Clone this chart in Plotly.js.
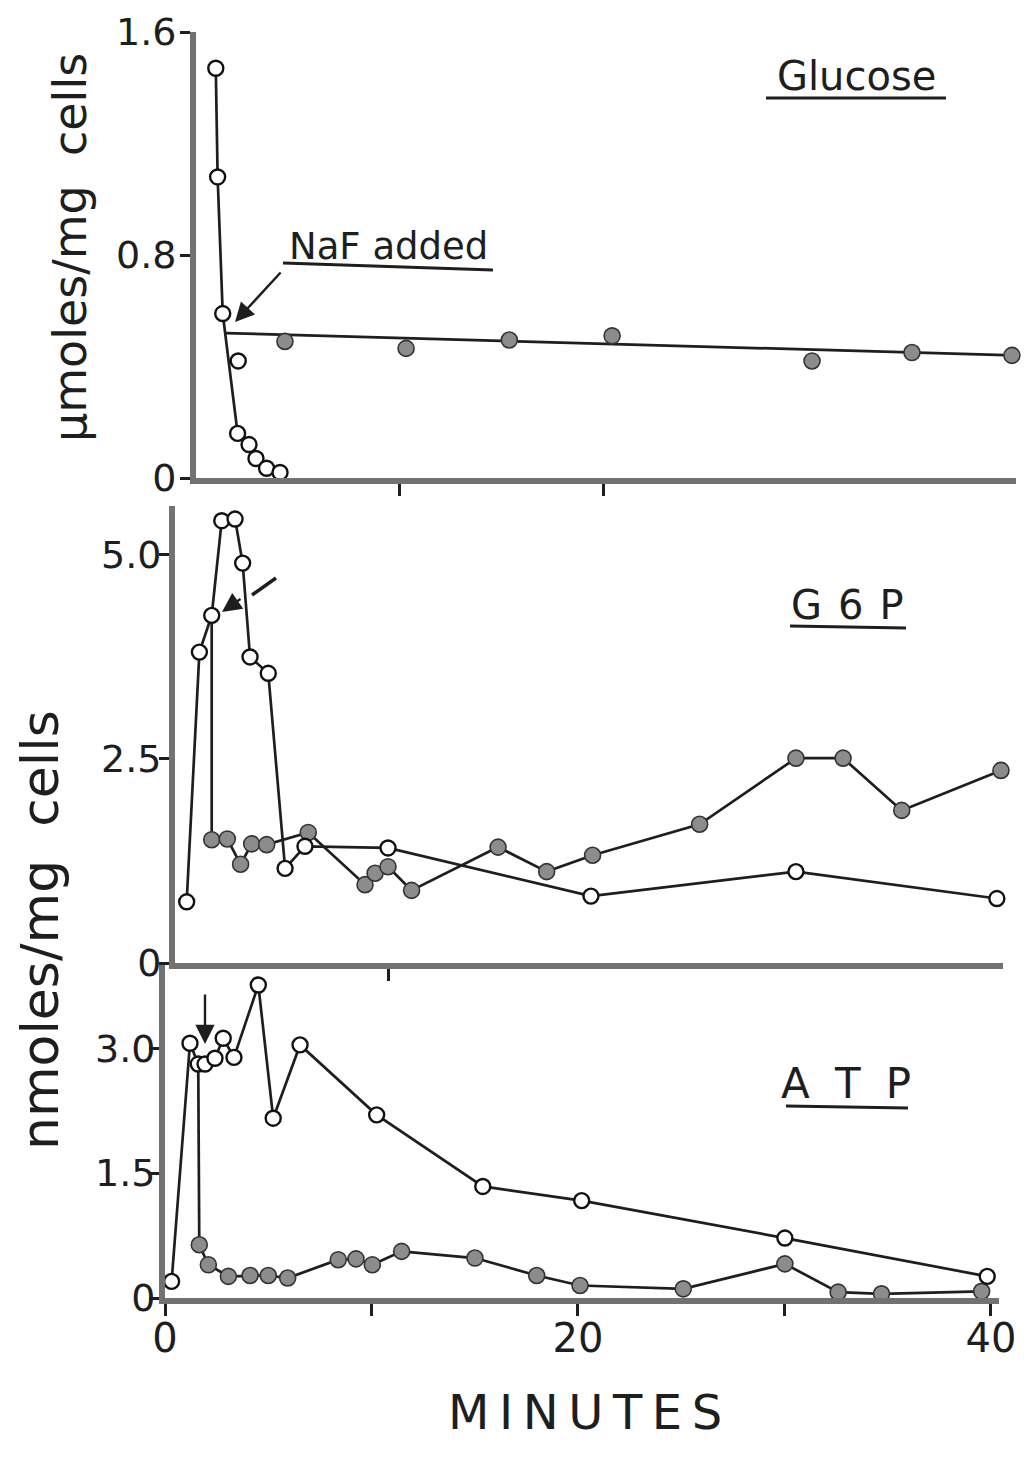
<!DOCTYPE html>
<html><head><meta charset="utf-8">
<script src="https://cdn.plot.ly/plotly-3.0.1.min.js"></script>
<style>body{margin:0;background:#fff}#chart{width:1030px;height:1470px}</style>
</head><body><div id="chart"></div>
<script>
// ---------- data (minutes, values) ----------
// Glucose (µmoles/mg cells)
const glucoseOpenX = [0.97, 1.06, 1.31, 2.04, 2.6, 2.94, 3.46, 4.12];
const glucoseOpenY = [1.47, 1.08, 0.59, 0.16, 0.12, 0.07, 0.035, 0.02];
const glucoseExtraX = [2.07];
const glucoseExtraY = [0.42];
const glucoseNaFX = [4.36, 10.3, 15.36, 20.4, 30.2, 35.1, 40.0];
const glucoseNaFY = [0.49, 0.465, 0.495, 0.51, 0.42, 0.45, 0.44];
const glucoseFitX = [1.47, 40.1];
const glucoseFitY = [0.52, 0.44];

// G6P (nmoles/mg cells)
const g6pOpenX = [0.18, 0.80, 1.40, 1.89, 2.54, 2.91, 3.27, 4.16, 4.98, 5.95, 10.0, 19.9, 29.9, 39.7];
const g6pOpenY = [0.75, 3.81, 4.26, 5.42, 5.44, 4.90, 3.75, 3.55, 1.16, 1.43, 1.41, 0.82, 1.12, 0.79];
const g6pNaFX = [1.40, 2.16, 2.81, 3.35, 4.08, 6.11, 8.88, 9.37, 10.0, 11.15, 15.37, 17.74, 19.98, 25.2, 29.9, 32.2, 35.06, 39.9];
const g6pNaFY = [1.51, 1.52, 1.21, 1.46, 1.45, 1.60, 0.96, 1.10, 1.18, 0.89, 1.42, 1.12, 1.32, 1.70, 2.51, 2.51, 1.87, 2.36];
const g6pNaFIndex = 2;   // open point where NaF was added

// ATP (nmoles/mg cells)
const atpOpenX = [0.32, 1.21, 1.61, 1.94, 2.42, 2.82, 3.34, 4.52, 5.24, 6.54, 10.25, 15.39, 20.18, 30.02, 39.82];
const atpOpenY = [0.20, 3.06, 2.81, 2.81, 2.88, 3.12, 2.89, 3.76, 2.16, 3.04, 2.20, 1.34, 1.17, 0.72, 0.26];
const atpNaFX = [1.66, 2.10, 3.07, 4.12, 5.0, 5.94, 8.39, 9.25, 10.04, 11.46, 15.01, 18.0, 20.1, 25.1, 30.02, 32.6, 34.7, 39.55];
const atpNaFY = [0.64, 0.40, 0.26, 0.27, 0.27, 0.24, 0.46, 0.47, 0.40, 0.56, 0.48, 0.27, 0.15, 0.11, 0.41, 0.07, 0.05, 0.08];
const atpNaFIndex = 2;

// ---------- helpers ----------
const W = 1030, H = 1470;
const px = v => v / W, py = v => 1 - v / H;
const FONT = 'DejaVu Sans, Liberation Sans, sans-serif';
const INK = '#1e1e1e';
const AXC = '#727272';
const lineStyle = {color: INK, width: 2.7};
const openMarker = {symbol: 'circle', size: 15, color: '#ffffff', line: {color: '#111', width: 2.4}};
const fillMarker = {symbol: 'circle', size: 16, color: '#8c8c8c', line: {color: '#333', width: 1.6}};

function tr(x, y, xa, ya, mode, marker) {
  const t = {x: x, y: y, xaxis: xa, yaxis: ya, mode: mode, line: lineStyle, cliponaxis: false, hoverinfo: 'skip', showlegend: false};
  if (marker) t.marker = marker;
  return t;
}

const data = [
  tr(glucoseFitX, glucoseFitY, 'x', 'y', 'lines'),
  tr(glucoseOpenX, glucoseOpenY, 'x', 'y', 'lines+markers', openMarker),
  tr(glucoseExtraX, glucoseExtraY, 'x', 'y', 'markers', openMarker),
  tr(glucoseNaFX, glucoseNaFY, 'x', 'y', 'markers', fillMarker),

  tr([g6pOpenX[g6pNaFIndex], g6pNaFX[0]], [g6pOpenY[g6pNaFIndex], g6pNaFY[0]], 'x2', 'y2', 'lines'),
  tr(g6pNaFX, g6pNaFY, 'x2', 'y2', 'lines+markers', fillMarker),
  tr(g6pOpenX, g6pOpenY, 'x2', 'y2', 'lines+markers', openMarker),

  tr([atpOpenX[atpNaFIndex], atpNaFX[0]], [atpOpenY[atpNaFIndex], atpNaFY[0]], 'x3', 'y3', 'lines'),
  tr(atpNaFX, atpNaFY, 'x3', 'y3', 'lines+markers', fillMarker),
  tr(atpOpenX, atpOpenY, 'x3', 'y3', 'lines+markers', openMarker)
];

const tickFont = {family: FONT, size: 38, color: INK};
function xax(dom, range, anchor, vals, text) {
  return {domain: dom, range: range, anchor: anchor, showline: true, linewidth: 6, linecolor: AXC,
    ticks: 'outside', ticklen: 12, tickwidth: 3, tickcolor: INK, tickvals: vals,
    ticktext: text || vals.map(() => ''), showticklabels: !!text, ticklabelstandoff: -12,
    tickfont: {family: FONT, size: 40, color: INK},
    showgrid: false, zeroline: false, fixedrange: true};
}
function yax(dom, range, anchor, vals, text, standoff) {
  return {domain: dom, range: range, anchor: anchor, showline: true, linewidth: 6, linecolor: AXC,
    ticks: 'outside', ticklen: 10, tickwidth: 3, tickcolor: INK, tickvals: vals, ticktext: text,
    ticklabelstandoff: standoff, tickfont: tickFont, showgrid: false, zeroline: false, fixedrange: true};
}

function label(text, x, y, size, extra) {
  return Object.assign({text: text, xref: 'paper', yref: 'paper', x: px(x), y: py(y),
    xanchor: 'center', yanchor: 'middle', showarrow: false, font: {family: FONT, size: size, color: INK}}, extra || {});
}
function arrow(hx, hy, tx, ty) {
  return {text: '', xref: 'paper', yref: 'paper', x: px(hx), y: py(hy), ax: tx - hx, ay: ty - hy,
    showarrow: true, arrowhead: 2, arrowsize: 1.6, arrowwidth: 2.4, arrowcolor: INK};
}
function uline(x0, y0, x1, y1, w) {
  return {type: 'line', xref: 'paper', yref: 'paper', x0: px(x0), y0: py(y0), x1: px(x1), y1: py(y1),
    line: {color: INK, width: w || 3}};
}

const layout = {
  width: W, height: H, margin: {l: 0, r: 0, t: 0, b: 0},
  paper_bgcolor: '#fff', plot_bgcolor: 'rgba(0,0,0,0)',
  font: {family: FONT, color: INK},
  xaxis: xax([px(196), px(1016)], [0, 40.2], 'y', [10, 20]),
  yaxis: yax([py(478), py(32)], [0, 1.6], 'x', [0, 0.8, 1.6], ['0', '0.8', '1.6'], -4),
  xaxis2: xax([px(175), px(1003)], [-0.39, 40], 'y2', [10]),
  yaxis2: yax([py(963), py(506)], [0, 5.6], 'x2', [0, 2.5, 5], ['0', '2.5', '5.0'], -10),
  xaxis3: xax([px(165), px(999)], [0, 40.39], 'y3', [0, 10, 20, 30, 40], ['0', '', '20', '', '40']),
  yaxis3: yax([py(1298), py(965)], [0, 4.0], 'x3', [0, 1.5, 3], ['0', '1.5', '3.0'], -14),
  annotations: [
    label('Glucose', 856, 76, 40),
    label('NaF added', 388, 246, 37),
    label('G\u2009\u20096\u2009\u2009P', 847, 605, 40),
    label('A\u2009\u2009\u2009T\u2009\u2009\u2009P', 846, 1083, 42),
    label('M\u2009I\u2009N\u2009U\u2009T\u2009E\u2009S', 585, 1412, 48),
    label('\u03bcmoles/mg  cells', 70, 248, 46, {textangle: -90}),
    label('nmoles/mg  cells', 40, 930, 52, {textangle: -90}),
    arrow(235, 322, 282, 271),
    arrow(222, 612, 242, 598),
    arrow(205, 1044, 205, 993)
  ],
  shapes: [
    uline(766, 98, 946, 98),
    uline(283, 263, 493, 270),
    uline(790, 626, 906, 628),
    uline(786, 1106, 908, 1108),
    uline(252, 595, 276, 578, 3.5)
  ]
};

Plotly.newPlot('chart', data, layout, {staticPlot: true, displayModeBar: false});
</script>
</body></html>
